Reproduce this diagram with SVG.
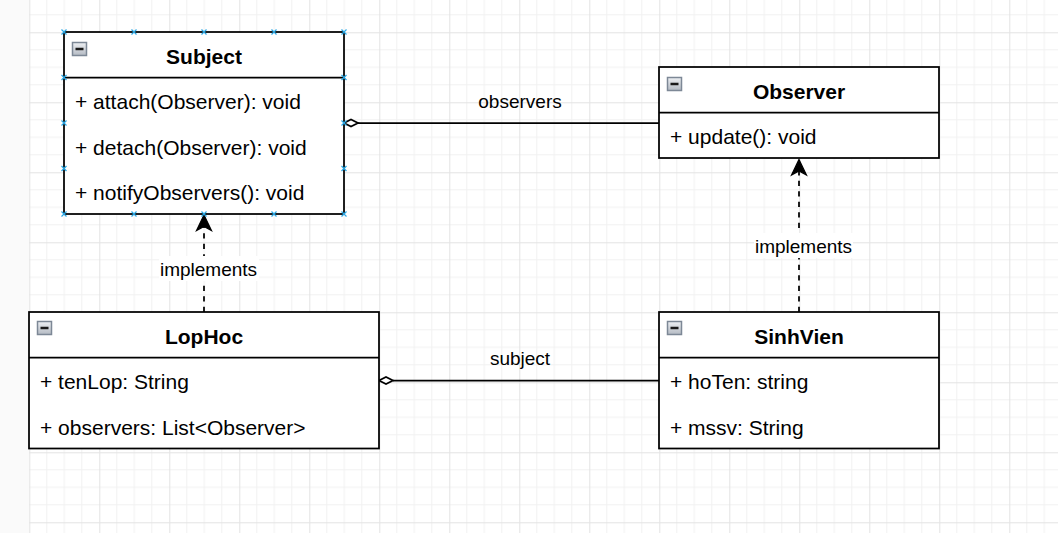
<svg xmlns="http://www.w3.org/2000/svg" width="1058" height="533" viewBox="0 0 1058 533">
<defs>
<pattern id="grid" patternUnits="userSpaceOnUse" x="29.3" y="32.3" width="70" height="70">
<rect width="70" height="70" fill="#ffffff"/>
<path d="M17.5,0V70M35,0V70M52.5,0V70M0,17.5H70M0,35H70M0,52.5H70" stroke="#f1f1f1" stroke-width="1" fill="none"/>
<path d="M0.5,0V70M0,0.5H70" stroke="#e3e3e3" stroke-width="1" fill="none"/>
</pattern>
<linearGradient id="ig" x1="0" y1="0" x2="0" y2="1">
<stop offset="0" stop-color="#eef0f3"/>
<stop offset="1" stop-color="#b4bac3"/>
</linearGradient>
<g id="icon">
<rect x="0" y="0" width="14" height="13" fill="url(#ig)" stroke="#7d8896" stroke-width="1.5"/>
<line x1="3" y1="6.5" x2="11" y2="6.5" stroke="#1a1a1a" stroke-width="2.5"/>
</g>
<path id="hx" d="M-2.5,-2.5L2.5,2.5M-2.5,2.5L2.5,-2.5" stroke="#29a8e6" stroke-width="1.2" fill="none"/>
</defs>
<style>
.box{fill:#ffffff;stroke:#000000;stroke-width:1.75}
.sep{stroke:#000000;stroke-width:1.75}
.title{font-family:"Liberation Sans",Arial,sans-serif;font-size:21px;font-weight:bold;fill:#000000;text-anchor:middle}
.row{font-family:"Liberation Sans",Arial,sans-serif;font-size:21px;fill:#000000}
.lbl{font-family:"Liberation Sans",Arial,sans-serif;font-size:19px;fill:#000000;text-anchor:middle}
.edge{fill:none;stroke:#000000;stroke-width:1.75}
.dash{fill:none;stroke:#000000;stroke-width:1.75;stroke-dasharray:5.25 5.25}
.dia{fill:#ffffff;stroke:#000000;stroke-width:1.75}
.arr{fill:#000000;stroke:#000000;stroke-width:1.2}
</style>
<rect x="0" y="0" width="1058" height="533" fill="#fafafa"/>
<rect x="29" y="0" width="1029" height="533" fill="url(#grid)"/>

<g id="connectors">
<path class="edge" d="M358,123H664.5V119.5"/>
<path class="dia" d="M344,123L351,119.5L358,123L351,126.5Z"/>
<text class="lbl" x="520" y="107.5">observers</text>
<path class="edge" d="M393,380.5H659"/>
<path class="dia" d="M379,380.5L386,377L393,380.5L386,384Z"/>
<text class="lbl" x="520" y="365">subject</text>
<path class="dash" d="M204,312V224"/>
<path class="arr" d="M204,215L211.5,230.5L204,226.5L196.5,230.5Z"/>
<rect x="159" y="256" width="100" height="25" fill="#ffffff"/>
<text class="lbl" x="208.5" y="275.5">implements</text>
<path class="dash" d="M799,312V168"/>
<path class="arr" d="M799,159.5L806.5,175L799,171L791.5,175Z"/>
<rect x="754" y="233" width="99" height="25" fill="#ffffff"/>
<text class="lbl" x="803.5" y="252.5">implements</text>
</g>

<g id="subject">
<rect class="box" x="64" y="32" width="280" height="182"/>
<line class="sep" x1="64" y1="77.5" x2="344" y2="77.5"/>
<use href="#icon" x="72.5" y="42.5"/>
<text class="title" x="204" y="64">Subject</text>
<text class="row" x="75" y="109">+ attach(Observer): void</text>
<text class="row" x="75" y="154.5">+ detach(Observer): void</text>
<text class="row" x="75" y="200">+ notifyObservers(): void</text>
<use href="#hx" x="64" y="32"/><use href="#hx" x="134" y="32"/><use href="#hx" x="204" y="32"/><use href="#hx" x="274" y="32"/><use href="#hx" x="344" y="32"/>
<use href="#hx" x="64" y="214"/><use href="#hx" x="134" y="214"/><use href="#hx" x="204" y="214"/><use href="#hx" x="274" y="214"/><use href="#hx" x="344" y="214"/>
<use href="#hx" x="64" y="77.5"/><use href="#hx" x="64" y="123"/><use href="#hx" x="64" y="168.5"/>
<use href="#hx" x="344" y="77.5"/><use href="#hx" x="344" y="123"/><use href="#hx" x="344" y="168.5"/>
</g>

<g id="observer">
<rect class="box" x="659" y="67" width="280" height="91"/>
<line class="sep" x1="659" y1="112.5" x2="939" y2="112.5"/>
<use href="#icon" x="667.5" y="77.5"/>
<text class="title" x="799" y="99">Observer</text>
<text class="row" x="670" y="144">+ update(): void</text>
</g>

<g id="lophoc">
<rect class="box" x="29" y="312" width="350" height="136.5"/>
<line class="sep" x1="29" y1="357.5" x2="379" y2="357.5"/>
<use href="#icon" x="37.5" y="321.5"/>
<text class="title" x="204" y="344">LopHoc</text>
<text class="row" x="40" y="389">+ tenLop: String</text>
<text class="row" x="40" y="434.5">+ observers: List&lt;Observer&gt;</text>
</g>

<g id="sinhvien">
<rect class="box" x="659" y="312" width="280" height="136.5"/>
<line class="sep" x1="659" y1="357.5" x2="939" y2="357.5"/>
<use href="#icon" x="667.5" y="321.5"/>
<text class="title" x="799" y="344">SinhVien</text>
<text class="row" x="670" y="389">+ hoTen: string</text>
<text class="row" x="670" y="434.5">+ mssv: String</text>
</g>
</svg>
